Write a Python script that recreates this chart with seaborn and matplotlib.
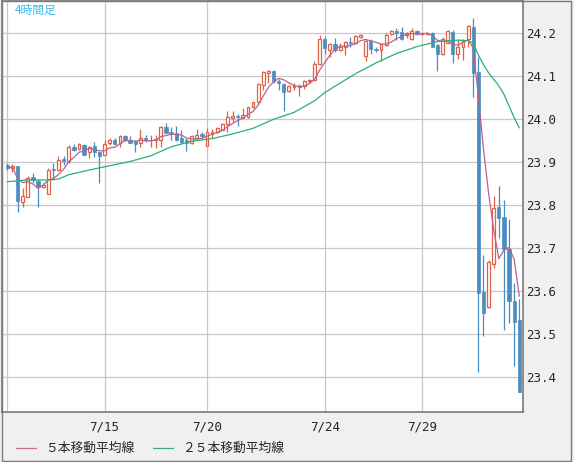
import numpy as np
import pandas as pd
import matplotlib
matplotlib.use("Agg")
import matplotlib.pyplot as plt
from matplotlib.patches import Rectangle
from matplotlib.lines import Line2D
import seaborn as sns

# 4-hour candles, bar index 0..100
opens = [
    23.894, 23.886, 23.891, 23.807, 23.820, 23.866, 23.857, 23.842, 23.826, 23.884,
    23.882, 23.907, 23.902, 23.936, 23.930, 23.940, 23.924, 23.939, 23.925, 23.916,
    23.944, 23.953, 23.946, 23.961, 23.953, 23.949, 23.944, 23.957, 23.952, 23.952,
    23.953, 23.983, 23.971, 23.967, 23.957, 23.953, 23.946, 23.956, 23.966, 23.939,
    23.965, 23.970, 23.975, 23.988, 24.004, 24.007, 24.004, 24.006, 24.028, 24.040,
    24.080, 24.107, 24.112, 24.089, 24.082, 24.066, 24.074, 24.074, 24.078, 24.088,
    24.091, 24.128, 24.186, 24.161, 24.174, 24.160, 24.169, 24.179, 24.178, 24.192,
    24.147, 24.182, 24.163, 24.160, 24.173, 24.198, 24.206, 24.202, 24.197, 24.187,
    24.206, 24.198, 24.198, 24.200, 24.173, 24.152, 24.178, 24.203, 24.153, 24.167,
    24.186, 24.214, 24.109, 23.599, 23.564, 23.664, 23.796, 23.773, 23.698, 23.578,
    23.533,
]
highs = [
    23.898, 23.895, 23.891, 23.841, 23.867, 23.874, 23.861, 23.853, 23.886, 23.898,
    23.915, 23.915, 23.940, 23.942, 23.944, 23.943, 23.939, 23.948, 23.927, 23.952,
    23.956, 23.956, 23.964, 23.964, 23.961, 23.953, 23.977, 23.964, 23.964, 23.964,
    23.984, 23.991, 23.983, 23.985, 23.975, 23.957, 23.964, 23.977, 23.971, 23.979,
    23.978, 23.982, 23.991, 24.019, 24.019, 24.012, 24.026, 24.029, 24.041, 24.084,
    24.113, 24.115, 24.115, 24.094, 24.084, 24.080, 24.084, 24.082, 24.091, 24.094,
    24.136, 24.196, 24.191, 24.178, 24.188, 24.177, 24.181, 24.192, 24.196, 24.198,
    24.184, 24.186, 24.169, 24.177, 24.200, 24.208, 24.212, 24.214, 24.204, 24.212,
    24.208, 24.202, 24.202, 24.202, 24.174, 24.191, 24.208, 24.208, 24.186, 24.186,
    24.219, 24.236, 24.144, 23.684, 23.673, 23.822, 23.845, 23.812, 23.768, 23.619,
    23.582,
]
lows = [
    23.882, 23.878, 23.785, 23.795, 23.819, 23.853, 23.795, 23.840, 23.826, 23.859,
    23.880, 23.894, 23.898, 23.927, 23.929, 23.917, 23.909, 23.912, 23.853, 23.916,
    23.940, 23.940, 23.936, 23.950, 23.944, 23.925, 23.936, 23.948, 23.936, 23.933,
    23.936, 23.967, 23.952, 23.950, 23.944, 23.927, 23.942, 23.954, 23.956, 23.939,
    23.956, 23.968, 23.974, 23.971, 23.993, 23.984, 24.002, 24.002, 24.026, 24.037,
    24.068, 24.084, 24.085, 24.068, 24.020, 24.064, 24.068, 24.055, 24.070, 24.085,
    24.089, 24.126, 24.152, 24.146, 24.157, 24.158, 24.150, 24.169, 24.175, 24.188,
    24.136, 24.152, 24.157, 24.136, 24.171, 24.196, 24.184, 24.184, 24.188, 24.185,
    24.196, 24.196, 24.197, 24.167, 24.113, 24.150, 24.177, 24.132, 24.140, 24.138,
    24.167, 24.053, 23.413, 23.495, 23.562, 23.655, 23.724, 23.510, 23.526, 23.426,
    23.366,
]
closes = [
    23.886, 23.892, 23.811, 23.822, 23.863, 23.859, 23.843, 23.847, 23.882, 23.881,
    23.905, 23.904, 23.936, 23.929, 23.943, 23.918, 23.935, 23.923, 23.915, 23.943,
    23.952, 23.943, 23.961, 23.952, 23.946, 23.942, 23.957, 23.952, 23.953, 23.955,
    23.982, 23.969, 23.967, 23.952, 23.948, 23.946, 23.960, 23.964, 23.961, 23.971,
    23.971, 23.979, 23.988, 24.005, 24.008, 24.005, 24.010, 24.028, 24.040, 24.082,
    24.111, 24.112, 24.088, 24.084, 24.063, 24.078, 24.078, 24.078, 24.089, 24.091,
    24.128, 24.186, 24.165, 24.174, 24.160, 24.169, 24.179, 24.177, 24.194, 24.196,
    24.182, 24.163, 24.160, 24.174, 24.196, 24.206, 24.200, 24.187, 24.200, 24.205,
    24.198, 24.200, 24.199, 24.169, 24.153, 24.186, 24.205, 24.153, 24.167, 24.183,
    24.217, 24.107, 23.597, 23.550, 23.668, 23.794, 23.771, 23.698, 23.578, 23.529,
    23.366,
]

# 25-bar moving average, read at these bars
ma25_bars = [0, 4, 8, 10, 12, 16, 20, 24, 28, 32, 36, 40, 44, 48, 52, 56, 60, 62,
             64, 68, 72, 76, 80, 84, 88, 90, 91, 92, 93, 94, 95, 96, 97, 98, 99, 100]
ma25_vals = [23.855, 23.859, 23.859, 23.861, 23.871, 23.882, 23.892, 23.902, 23.915,
             23.936, 23.949, 23.955, 23.966, 23.979, 24.000, 24.016, 24.043, 24.062,
             24.077, 24.106, 24.131, 24.153, 24.169, 24.181, 24.184, 24.183, 24.177,
             24.150, 24.127, 24.108, 24.093, 24.078, 24.058, 24.031, 24.004, 23.980]

date_bars = [19, 39, 62, 81]
date_labels = ["7/15", "7/20", "7/24", "7/29"]
grid_bars = [0, 19, 39, 62, 81]
price_ticks = [23.4, 23.5, 23.6, 23.7, 23.8, 23.9, 24.0, 24.1, 24.2]

red = "#dc6446"
blue = "#4b8cc3"
ma5_color = "#c0608a"
ma25_color = "#27b077"
grid_color = "#c8c8c8"

df = pd.DataFrame({"open": opens, "high": highs, "low": lows, "close": closes})
df["bar"] = np.arange(len(df))
df["ma5"] = df["close"].rolling(5, min_periods=1).mean()
ma25 = pd.DataFrame({"bar": ma25_bars, "ma25": ma25_vals})

sns.set_style("white")

W, H = 574, 462
fig = plt.figure(figsize=(W / 100, H / 100), dpi=100)
fig.patch.set_facecolor("#f0f0f0")

ax = fig.add_axes([2 / W, 50 / H, 521 / W, 411 / H])
ax.set_facecolor("white")

# grid
for b in grid_bars:
    ax.axvline(b, color=grid_color, linewidth=0.9, zorder=1)
for p in price_ticks:
    ax.axhline(p, color=grid_color, linewidth=0.9, zorder=1)

up = df["close"] >= df["open"]
dn = ~up

ax.vlines(df["bar"][up], df["low"][up], df["high"][up], color=red, linewidth=0.9, zorder=3)
ax.vlines(df["bar"][dn], df["low"][dn], df["high"][dn], color=blue, linewidth=0.9, zorder=3)

ax.bar(df["bar"][up], (df["close"] - df["open"])[up], bottom=df["open"][up],
       width=0.55, facecolor="white", edgecolor=red, linewidth=0.9, zorder=4)
ax.bar(df["bar"][dn], (df["open"] - df["close"])[dn], bottom=df["close"][dn],
       width=0.65, facecolor=blue, edgecolor=blue, linewidth=0.5, zorder=4)

sns.lineplot(data=df, x="bar", y="ma5", color=ma5_color, linewidth=0.9, ax=ax, zorder=5)
sns.lineplot(data=ma25, x="bar", y="ma25", color=ma25_color, linewidth=0.9, ax=ax, zorder=5)

ax.set_xlim(-1.03, 100.72)
ax.set_ylim(23.3193, 24.2751)

ax.yaxis.tick_right()
ax.set_yticks(price_ticks)
ax.set_yticklabels([f"{v:.1f}" for v in price_ticks], family="DejaVu Sans Mono", fontsize=9)
ax.set_xticks(date_bars)
ax.set_xticklabels(date_labels, family="DejaVu Sans Mono", fontsize=9)
ax.tick_params(axis="y", length=0, pad=2)
ax.tick_params(axis="x", length=0, pad=6)
ax.grid(False)
ax.set_xlabel("")
ax.set_ylabel("")
for side in ["left", "top", "right", "bottom"]:
    ax.spines[side].set_color("#7a7a7a")
    ax.spines[side].set_linewidth(1.2)
    ax.spines[side].set_visible(True)

# outer frame around the whole widget
fig.patches.append(Rectangle((1.5 / W, 1.5 / H), 569.5 / W, 459.5 / H,
                             transform=fig.transFigure, fill=False,
                             edgecolor="#7a7a7a", linewidth=1.0, zorder=10))

fig.text(15 / W, 1 - 10.5 / H, "4時間足", color="#3dbbe8", fontsize=8.5,
         va="center", ha="left", family=["Noto Sans CJK JP", "DejaVu Sans"])

legend_y = 1 - 448 / H
fig.lines.append(Line2D([16 / W, 36 / W], [legend_y, legend_y], transform=fig.transFigure,
                        color="#c07090", linewidth=0.9))
fig.text(45 / W, legend_y, "５本移動平均線", fontsize=9.2, va="center", ha="left",
         family=["Noto Sans CJK JP", "DejaVu Sans"])
fig.lines.append(Line2D([153 / W, 173 / W], [legend_y, legend_y], transform=fig.transFigure,
                        color="#3aaa80", linewidth=0.9))
fig.text(182 / W, legend_y, "２５本移動平均線", fontsize=9.2, va="center", ha="left",
         family=["Noto Sans CJK JP", "DejaVu Sans"])

fig.savefig("out.png", dpi=100, facecolor=fig.get_facecolor())
